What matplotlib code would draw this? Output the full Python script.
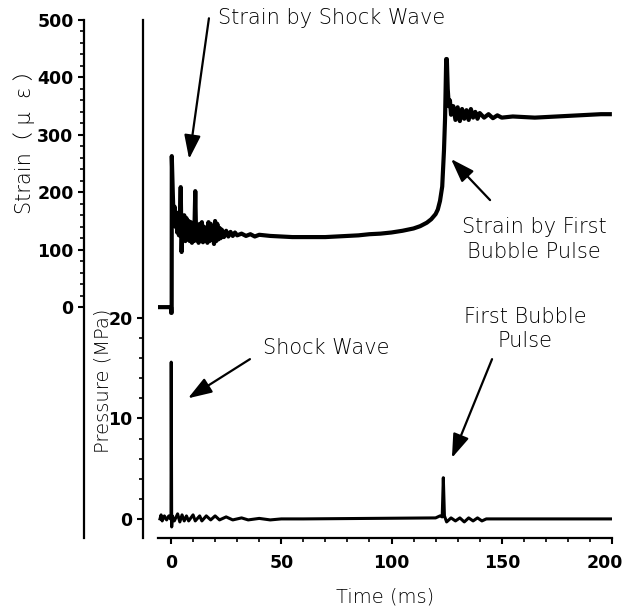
import numpy as np
import matplotlib
matplotlib.use('Agg')
from matplotlib import pyplot as plt
from matplotlib.transforms import ScaledTranslation

# strain trace (micro strain)
strain_t = [-6, 0.0, 0.05, 0.3, 0.35, 0.8, 1.2, 1.6, 2.0, 2.4, 2.8, 3.2, 3.6, 4.0, 4.4, 4.8,
            5.2, 5.6, 6.0, 6.5, 7.0, 7.5, 8.0, 8.5, 9.0, 9.5, 10.0, 10.5, 11.0, 11.4, 12.0,
            12.5, 13.0, 13.5, 14.0, 14.5, 15.0, 15.5, 16.0, 16.5, 17.0, 17.5, 18.0, 18.5,
            19.0, 19.5, 20.0, 20.5, 21.0, 21.5, 22.0, 22.5, 23.0, 24.0, 25.0, 26.0, 27.0,
            28.0, 29.0, 30.0, 32.0, 34.0, 36.0, 38.0, 40.0, 45.0, 50.0, 55.0, 60.0, 65.0,
            70.0, 75.0, 80.0, 85.0, 90.0, 95.0, 100.0, 105.0, 110.0, 113.0, 116.0, 118.0,
            120.0, 121.0, 122.0, 123.0, 123.8, 124.3, 124.8, 125.1, 125.5, 126.0, 126.5,
            127.0, 128.0, 129.0, 130.0, 131.0, 132.0, 133.0, 134.0, 135.0, 136.0, 137.0,
            138.0, 139.0, 140.0, 142.0, 144.0, 146.0, 148.0, 150.0, 155.0, 160.0, 165.0,
            170.0, 175.0, 180.0, 185.0, 190.0, 195.0, 199.0]
strain_v = [0, 0, -10, -10, 263, 200, 150, 175, 140, 165, 130, 160, 125, 150, 209, 96,
            150, 120, 160, 115, 155, 118, 150, 115, 148, 112, 140, 115, 202, 120, 140,
            112, 145, 115, 148, 113, 140, 118, 135, 112, 148, 115, 145, 118,
            140, 110, 150, 115, 145, 118, 138, 120, 135, 122, 133, 123, 131,
            124, 130, 125, 128, 124, 127, 123, 126, 124, 123, 122, 122, 122,
            122, 123, 124, 125, 127, 128, 130, 133, 137, 141, 147, 153,
            162, 170, 185, 210, 273, 330, 432, 432, 380, 350, 360,
            335, 350, 326, 348, 324, 345, 328, 343, 326, 345, 330,
            340, 328, 338, 330, 336, 329, 334, 330, 332, 331, 330,
            331, 332, 333, 334, 335, 336, 336]

# pressure trace (MPa)
press_t = [-5, -4.5, -4, -3, -2, -1, -0.3, 0.0, 0.1, 0.3, 0.6, 1.5, 3, 4, 5, 6, 7, 8,
           10, 11, 13, 14, 16, 18, 20, 22, 25, 28, 32, 35, 40, 45, 50, 60, 120, 122,
           123, 123.5, 124, 125, 127, 129, 131, 133, 135, 137, 139, 141, 143, 200]
press_v = [0, 0.4, -0.2, 0.3, -0.1, 0.3, 0, 0, 15.6, -0.8, 0.3, -0.2, 0.5, -0.3, 0.4,
           -0.2, 0.3, -0.2, 0.4, -0.2, 0.3, -0.2, 0.3, -0.1, 0.3, -0.1, 0.2, -0.1, 0.1,
           -0.1, 0.05, -0.1, 0, 0, 0.1, 0.3, 0.2, 4.1, 0.3, -0.3, 0.1, -0.2, 0.1, -0.3,
           0.1, -0.2, 0.1, -0.2, 0, 0]

xticks = [0, 50, 100, 150, 200]
strain_ticks = [0, 100, 200, 300, 400, 500]
press_ticks = [0, 10, 20]

fam = ['DejaVu Sans', 'Noto Sans CJK JP']
txt = dict(family=fam, fontsize=15, weight='light', color='black')
lbl = dict(family=fam, fontsize=14, weight='light', color='black')
tick_font = dict(family='DejaVu Sans', weight='bold', size=12.5)
arr = dict(arrowstyle='-|>,head_length=1.45,head_width=0.5', lw=1.6, color='k',
           shrinkA=0, shrinkB=0)

fig = plt.figure(figsize=(6.27, 6.07), dpi=100)
rect = [158/627, 1-538/607, 454/627, 518/607]
ax_p = fig.add_axes(rect)
ax_s = fig.add_axes(rect, sharex=ax_p)
ax_s.patch.set_visible(False)

# pressure axis
ax_p.plot(press_t, press_v, color='k', lw=2.2)
ax_p.set_xlim(-5.9, 200)
ax_p.set_ylim(-1.9, 49.65)
ax_p.set_yticks(press_ticks)
ax_p.set_yticks(np.arange(0, 21, 2), minor=True)
ax_p.set_xticks(xticks)
ax_p.set_xticks(np.arange(0, 201, 10), minor=True)
for s in ['top', 'right']:
    ax_p.spines[s].set_visible(False)
ax_p.spines['left'].set_position(('outward', 10.8))
for s in ['left', 'bottom']:
    ax_p.spines[s].set_linewidth(1.6)
ax_p.tick_params(which='major', length=4.5, width=1.5, pad=3)
ax_p.tick_params(which='minor', length=3, width=1.2)
ax_p.tick_params(axis='x', which='major', pad=7)
for lab in ax_p.get_xticklabels() + ax_p.get_yticklabels():
    lab.set(**tick_font)
# nudge the last time label inside the figure like the original
last = ax_p.get_xticklabels()[-1]
last.set_transform(last.get_transform() + ScaledTranslation(-0.07, 0, fig.dpi_scale_trans))

# strain axis
ax_s.plot(strain_t, strain_v, color='k', lw=3.0)
ax_s.set_ylim(-402, 500)
ax_s.set_yticks(strain_ticks)
ax_s.set_yticks(np.arange(0, 501, 20), minor=True)
for s in ['top', 'right', 'bottom']:
    ax_s.spines[s].set_visible(False)
ax_s.spines['left'].set_position(('outward', 53.3))
ax_s.spines['left'].set_linewidth(1.6)
ax_s.xaxis.set_visible(False)
ax_s.tick_params(which='major', length=4.5, width=1.5, pad=3)
ax_s.tick_params(which='minor', length=3, width=1.2)
for lab in ax_s.get_yticklabels():
    lab.set(**tick_font)

# axis titles
fig.text(24/627, 1-137/607, 'Strain（ μ  ε ）', rotation=90, ha='center', va='center',
         family=fam, fontsize=15, weight='light')
fig.text(103/627, 1-381/607, 'Pressure (MPa)', rotation=90, ha='center', va='center', **lbl)
fig.text(385/627, 1-597/607, 'Time (ms)', ha='center', va='center', **lbl)

# annotations
ax_s.text(21.3, 503, 'Strain by Shock Wave', ha='left', va='center', **txt)
ax_s.annotate('', xy=(8.2, 258), xytext=(17.2, 503), arrowprops=arr, annotation_clip=False)
ax_s.text(164.6, 117.6, 'Strain by First\nBubble Pulse', ha='center', va='center',
          linespacing=1.3, **txt)
ax_s.annotate('', xy=(127, 258), xytext=(144.7, 186.4), arrowprops=arr)
ax_p.text(41.7, 17.0, 'Shock Wave', ha='left', va='center', **txt)
ax_p.annotate('', xy=(7.7, 12.0), xytext=(35.8, 15.9), arrowprops=arr)
ax_p.text(160.5, 18.9, 'First Bubble\nPulse', ha='center', va='center',
          linespacing=1.3, **txt)
ax_p.annotate('', xy=(127.4, 6.07), xytext=(145.6, 15.9), arrowprops=arr)

fig.savefig('out.png', dpi=100)
